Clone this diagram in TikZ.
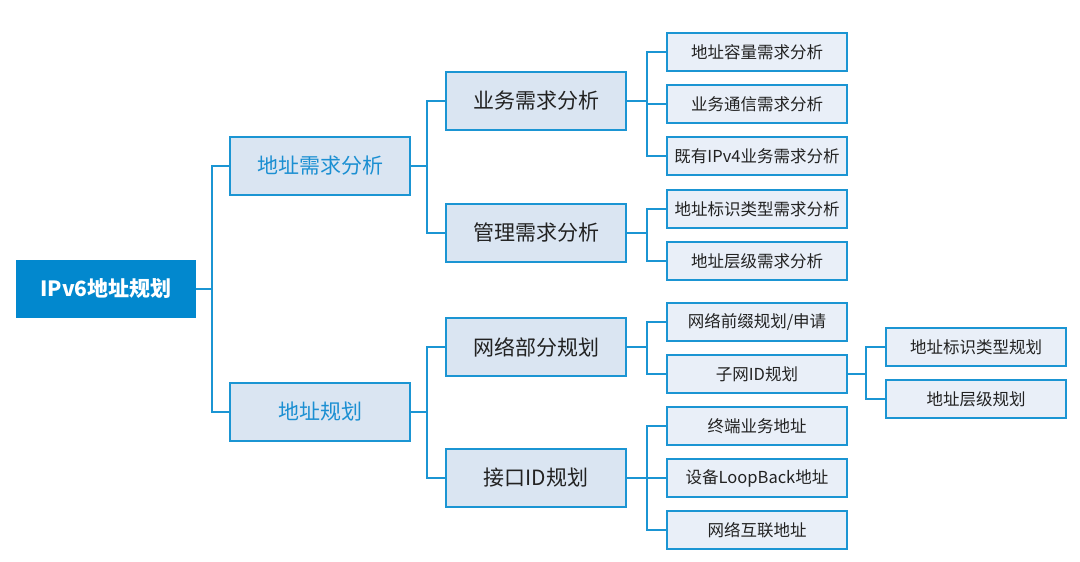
\documentclass[tikz,border=0pt]{standalone}
\usepackage{fontspec}
\setmainfont{Noto Sans CJK SC}
\definecolor{rootblue}{RGB}{2,136,206}
\definecolor{edgeblue}{RGB}{27,149,211}
\definecolor{lvfill}{RGB}{218,229,242}
\definecolor{leaffill}{RGB}{233,239,248}
\definecolor{lvtext}{RGB}{27,143,210}
\definecolor{darktext}{RGB}{34,34,34}
\tikzset{
  rootbox/.style={fill=rootblue, draw=none, minimum width=180pt, minimum height=58pt, inner sep=0pt, text=white, font=\fontsize{21}{25}\selectfont\bfseries},
  lvonebox/.style={fill=lvfill, draw=edgeblue, line width=1.5pt, minimum width=180pt, minimum height=58pt, inner sep=0pt, text=lvtext, font=\fontsize{21}{25}\selectfont},
  lvtwobox/.style={fill=lvfill, draw=edgeblue, line width=1.5pt, minimum width=180pt, minimum height=58pt, inner sep=0pt, text=darktext, font=\fontsize{21}{25}\selectfont},
  leafbox/.style={fill=leaffill, draw=edgeblue, line width=1.5pt, minimum width=180pt, minimum height=38pt, inner sep=0pt, text=darktext, font=\fontsize{16.5}{19}\selectfont},
  link/.style={draw=edgeblue, line width=1.5pt}
}
\begin{document}
\begin{tikzpicture}[x=1pt,y=-1pt]
\useasboundingbox (0,0) rectangle (1080,562);
\fill[white] (0,0) rectangle (1080,562);
% root
\node[rootbox] (root) at (106,289) {IPv6地址规划};
% level 1
\node[lvonebox] (req) at (320,166) {地址需求分析};
\node[lvonebox] (plan) at (320,412) {地址规划};
% level 2
\node[lvtwobox] (biz) at (536,101) {业务需求分析};
\node[lvtwobox] (mgmt) at (536,233) {管理需求分析};
\node[lvtwobox] (net) at (536,347) {网络部分规划};
\node[lvtwobox] (iface) at (536,478) {接口ID规划};
% level 3
\node[leafbox] (c1) at (757,52) {地址容量需求分析};
\node[leafbox] (c2) at (757,104) {业务通信需求分析};
\node[leafbox] (c3) at (757,156) {既有IPv4业务需求分析};
\node[leafbox] (c4) at (757,209) {地址标识类型需求分析};
\node[leafbox] (c5) at (757,261) {地址层级需求分析};
\node[leafbox] (c6) at (757,322) {网络前缀规划/申请};
\node[leafbox] (c7) at (757,374) {子网ID规划};
\node[leafbox] (c8) at (757,426) {终端业务地址};
\node[leafbox] (c9) at (757,478) {设备LoopBack地址};
\node[leafbox] (c10) at (757,530) {网络互联地址};
% level 4
\node[leafbox] (d1) at (976,347) {地址标识类型规划};
\node[leafbox] (d2) at (976,399) {地址层级规划};
% junctions
\coordinate (j0) at (212,289);
\coordinate (j1) at (427,166);
\coordinate (j2) at (427,412);
\coordinate (j3) at (647,101);
\coordinate (j4) at (647,233);
\coordinate (j5) at (647,347);
\coordinate (j6) at (647,478);
\coordinate (j7) at (866,374);
% connectors
\draw[link] (root.east) -- (j0);
\draw[link] (j0) |- (req.west);
\draw[link] (j0) |- (plan.west);
\draw[link] (req.east) -- (j1);
\draw[link] (j1) |- (biz.west);
\draw[link] (j1) |- (mgmt.west);
\draw[link] (plan.east) -- (j2);
\draw[link] (j2) |- (net.west);
\draw[link] (j2) |- (iface.west);
\draw[link] (biz.east) -- (j3);
\draw[link] (j3) |- (c1.west);
\draw[link] (j3) |- (c2.west);
\draw[link] (j3) |- (c3.west);
\draw[link] (mgmt.east) -- (j4);
\draw[link] (j4) |- (c4.west);
\draw[link] (j4) |- (c5.west);
\draw[link] (net.east) -- (j5);
\draw[link] (j5) |- (c6.west);
\draw[link] (j5) |- (c7.west);
\draw[link] (iface.east) -- (j6);
\draw[link] (j6) |- (c8.west);
\draw[link] (j6) |- (c9.west);
\draw[link] (j6) |- (c10.west);
\draw[link] (c7.east) -- (j7);
\draw[link] (j7) |- (d1.west);
\draw[link] (j7) |- (d2.west);
\end{tikzpicture}
\end{document}
